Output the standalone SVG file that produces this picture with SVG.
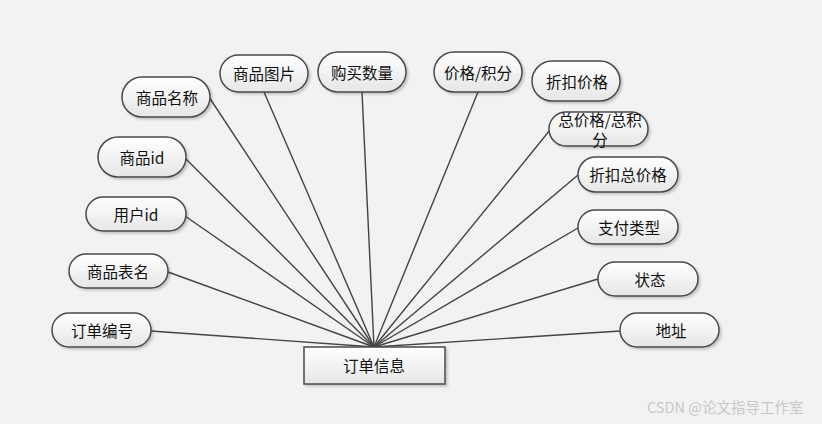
<svg xmlns="http://www.w3.org/2000/svg" width="822" height="424" viewBox="0 0 822 424">
<style>
.n{fill:url(#g);stroke:#4a4a4a;stroke-width:1.5;filter:url(#sh)}
.t{font-family:"Microsoft YaHei","Noto Sans CJK SC",sans-serif;font-size:15.5px;fill:#111;text-anchor:middle;dominant-baseline:central}
.c line{stroke:#444;stroke-width:1.4}
.w{font-family:"Noto Sans CJK SC",sans-serif;font-size:14.5px;fill:#c8c8c8}
</style>
<defs>
<linearGradient id="g" x1="0" y1="0" x2="0" y2="1">
<stop offset="0" stop-color="#ffffff"/><stop offset="1" stop-color="#e6e6e6"/>
</linearGradient>
<filter id="sh" x="-10%" y="-20%" width="130%" height="160%">
<feDropShadow dx="2" dy="2" stdDeviation="1.2" flood-color="#000" flood-opacity="0.18"/>
</filter>
</defs>
<rect width="822" height="424" fill="#f2f2f2"/>
<g class="c">
<line x1="374" y1="347" x2="151" y2="331"/>
<line x1="374" y1="347" x2="168" y2="272"/>
<line x1="374" y1="347" x2="185" y2="216"/>
<line x1="374" y1="347" x2="186" y2="159"/>
<line x1="374" y1="347" x2="209" y2="97"/>
<line x1="374" y1="347" x2="264" y2="92"/>
<line x1="374" y1="347" x2="362" y2="92"/>
<line x1="374" y1="347" x2="478" y2="92"/>
<line x1="374" y1="347" x2="550" y2="130"/>
<line x1="374" y1="347" x2="578" y2="175"/>
<line x1="374" y1="347" x2="578" y2="228"/>
<line x1="374" y1="347" x2="598" y2="279"/>
<line x1="374" y1="347" x2="620" y2="331"/>
</g>
<g id="order"><rect x="304" y="347" width="141" height="37" class="n" rx="0"/><text class="t" x="374" y="365">订单信息</text></g>
<g id="a1"><rect x="122" y="77" width="88" height="40" rx="20" class="n"/><text class="t" x="167" y="97">商品名称</text></g>
<g id="a2"><rect x="220" y="55" width="88" height="37" rx="18.5" class="n"/><text class="t" x="264" y="73">商品图片</text></g>
<g id="a3"><rect x="318" y="52" width="88" height="40" rx="20" class="n"/><text class="t" x="362" y="72">购买数量</text></g>
<g id="a4"><rect x="98" y="137" width="88" height="40" rx="20" class="n"/><text class="t" x="142" y="157">商品id</text></g>
<g id="a5"><rect x="434" y="52" width="88" height="40" rx="20" class="n"/><text class="t" x="478" y="72">价格/积分</text></g>
<g id="a6"><rect x="532" y="61" width="88" height="40" rx="20" class="n"/><text class="t" x="577" y="81">折扣价格</text></g>
<g id="a7"><rect x="549" y="112" width="99" height="34" rx="17" class="n"/><text class="t" x="600" y="119">总价格/总积</text><text class="t" x="600" y="139">分</text></g>
<g id="a8"><rect x="578" y="157" width="100" height="35" rx="17.5" class="n"/><text class="t" x="628" y="174">折扣总价格</text></g>
<g id="a9"><rect x="86" y="197" width="100" height="34" rx="17" class="n"/><text class="t" x="136" y="214">用户id</text></g>
<g id="a10"><rect x="69" y="254" width="99" height="34" rx="17" class="n"/><text class="t" x="118" y="271">商品表名</text></g>
<g id="a11"><rect x="52" y="313" width="99" height="34" rx="17" class="n"/><text class="t" x="102" y="330">订单编号</text></g>
<g id="a12"><rect x="578" y="210" width="100" height="34" rx="17" class="n"/><text class="t" x="629" y="227">支付类型</text></g>
<g id="a13"><rect x="598" y="262" width="100" height="34" rx="17" class="n"/><text class="t" x="650" y="279">状态</text></g>
<g id="a14"><rect x="620" y="313" width="99" height="34" rx="17" class="n"/><text class="t" x="671" y="330">地址</text></g>
<text class="w" x="647" y="413">CSDN @论文指导工作室</text>
</svg>
